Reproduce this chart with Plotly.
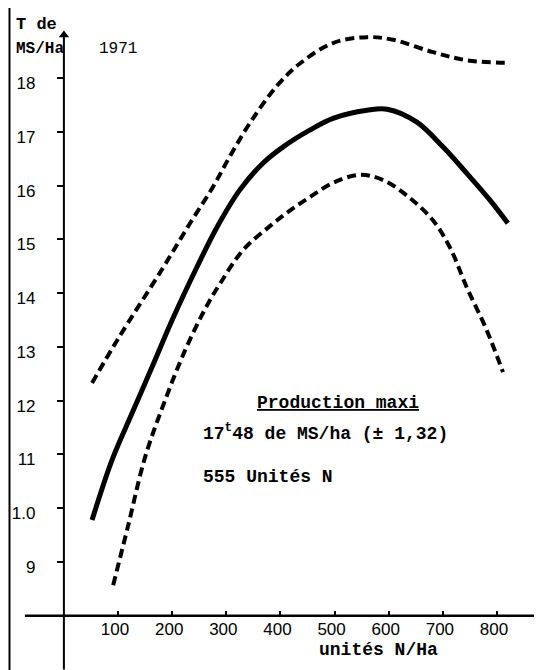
import plotly.graph_objects as go

# ---- data ----
solid_x = [52, 89, 126, 163, 200, 246, 283, 325, 368, 405, 454, 497, 560, 597, 652, 700, 744, 787, 820]
solid_y = [9.78, 10.9, 11.77, 12.63, 13.5, 14.49, 15.23, 15.92, 16.42, 16.72, 17.03, 17.25, 17.40, 17.42, 17.18, 16.72, 16.23, 15.73, 15.30]

upper_x = [52, 100, 183, 233, 275, 307, 344, 394, 436, 497, 560, 608, 682, 744, 824]
upper_y = [12.33, 13.15, 14.47, 15.30, 15.97, 16.55, 17.17, 17.86, 18.27, 18.65, 18.76, 18.71, 18.48, 18.33, 18.28]

lower_x = [91, 118, 150, 187, 224, 260, 288, 331, 381, 418, 455, 497, 547, 590, 639, 682, 713, 744, 781, 811]
lower_y = [8.57, 9.65, 10.95, 12.01, 12.94, 13.69, 14.17, 14.80, 15.25, 15.54, 15.79, 16.05, 16.2, 16.1, 15.77, 15.35, 14.85, 14.11, 13.31, 12.53]

x_ticks = [100, 200, 300, 400, 500, 600, 700, 800]
x_ticklabels = ["100", "200", "300", "400", "500", "600", "700", "800"]
y_ticks = [9, 10, 11, 12, 13, 14, 15, 16, 17, 18]
y_ticklabels = ["9", "1.0", "11", "12", "13", "14", "15", "16", "17", "18"]

# the page body has an 8px margin: the figure is placed at (8, 8)
OFF = 8
W, H = 542 - OFF, 670 - OFF
MONO = "Liberation Mono"
SANS = "Liberation Sans"

fig = go.Figure()
dash_line = dict(color="black", width=4, dash="9px,5px", shape="spline", smoothing=1.0)
fig.add_trace(go.Scatter(x=upper_x, y=upper_y, mode="lines", line=dash_line,
                         showlegend=False, hoverinfo="skip"))
fig.add_trace(go.Scatter(x=solid_x, y=solid_y, mode="lines",
                         line=dict(color="black", width=5, shape="spline", smoothing=1.0),
                         showlegend=False, hoverinfo="skip"))
fig.add_trace(go.Scatter(x=lower_x, y=lower_y, mode="lines", line=dash_line,
                         showlegend=False, hoverinfo="skip"))

# axis lines (crossing at x=0, y=8) with arrow heads
fig.add_shape(type="line", xref="x", yref="y", x0=0, x1=0, y0=7.0, y1=18.85,
              line=dict(color="black", width=2))
fig.add_shape(type="line", xref="x", yref="y", x0=-72, x1=878, y0=8, y1=8,
              line=dict(color="black", width=2.5))
fig.add_trace(go.Scatter(x=[0], y=[18.8], mode="markers",
                         marker=dict(symbol="triangle-up", size=9, color="black"),
                         showlegend=False, hoverinfo="skip"))
fig.add_trace(go.Scatter(x=[878], y=[8], mode="markers",
                         marker=dict(symbol="triangle-right", size=8, color="black"),
                         showlegend=False, hoverinfo="skip"))

# left frame line of the scanned page
fig.add_shape(type="line", xref="paper", yref="paper", x0=(9.5 - OFF) / W, x1=(9.5 - OFF) / W,
              y0=0, y1=1, line=dict(color="black", width=2))


def txt(s, px, py, size, family=MONO, anchor="left"):
    fig.add_annotation(x=(px - OFF) / W, y=1 - (py - OFF) / H, xref="paper", yref="paper", text=s,
                       showarrow=False, xanchor=anchor, yanchor="middle",
                       font=dict(family=family, size=size, color="black"))


txt("<b>T de</b>", 14, 25, 17)
txt("<b>MS/Ha</b>", 14, 49, 16)
txt("1971", 97, 49, 16)
txt("<b><u>Production maxi</u></b>", 338, 403, 18, anchor="center")
txt("<b>17<sup>t</sup>48 de MS/ha (± 1,32)</b>", 201, 432, 18)
txt("<b>555 Unités N</b>", 201, 477, 18)
txt("<b>unités N/Ha</b>", 378, 650, 18, anchor="center")

x0_px, x_scale = 63.9 - OFF, 0.5414
y18_px, y_scale = 78 - OFF, 53.78
xr = [(0 - x0_px) / x_scale, (W - x0_px) / x_scale]
yr = [18 - (H - y18_px) / y_scale, 18 + y18_px / y_scale]

fig.update_layout(
    width=W, height=H, margin=dict(l=0, r=0, t=0, b=0),
    paper_bgcolor="white", plot_bgcolor="white",
    xaxis=dict(range=xr, domain=[0, 1], anchor="free", position=1 - (617 - OFF) / H,
               tickvals=x_ticks, ticktext=x_ticklabels, ticks="inside", ticklen=6, tickwidth=2,
               tickcolor="black", showgrid=False, zeroline=False, showline=False, automargin=False,
               ticklabelshift=-3,
               tickfont=dict(family=SANS, size=17, color="black")),
    yaxis=dict(range=yr, domain=[0, 1], anchor="free", position=x0_px / W,
               tickvals=y_ticks, ticktext=y_ticklabels, ticks="outside", ticklen=7, tickwidth=2,
               tickcolor="black", showgrid=False, zeroline=False, showline=False, automargin=False,
               ticklabelstandoff=18, ticklabelshift=5,
               tickfont=dict(family=SANS, size=17, color="black")),
)

fig.write_html("out.html")
